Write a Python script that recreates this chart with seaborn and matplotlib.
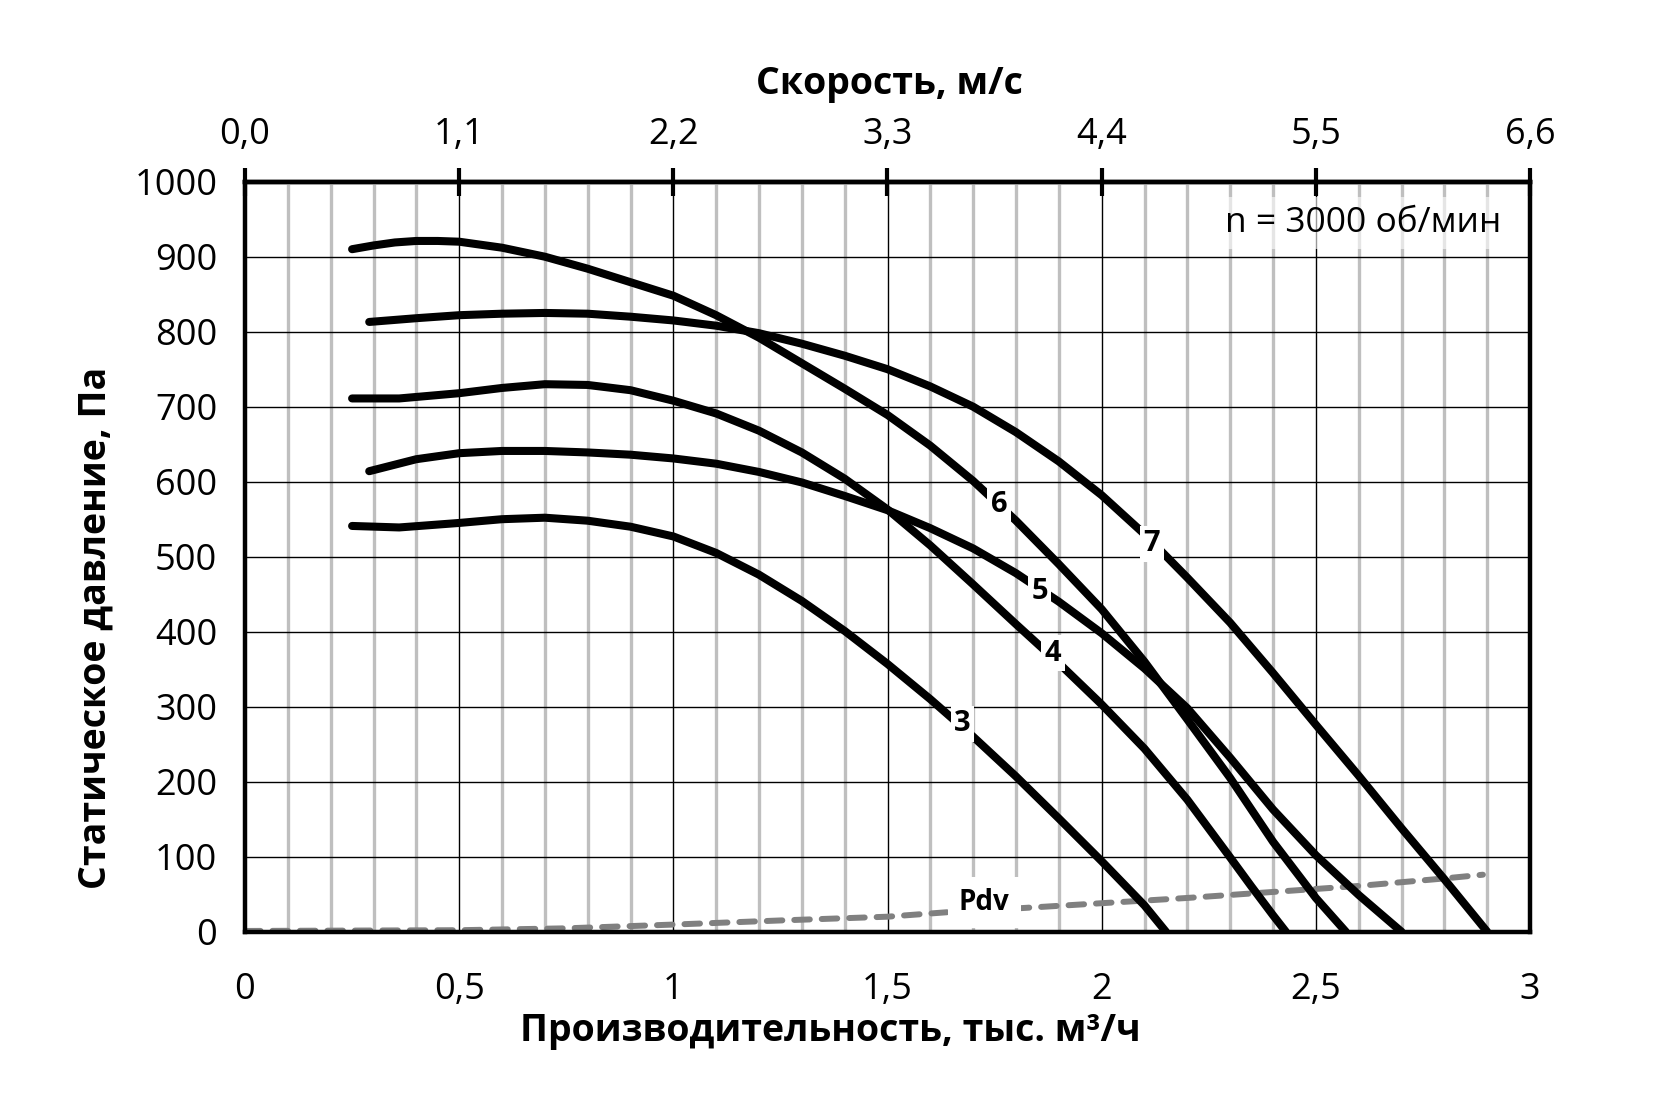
import numpy as np
import pandas as pd
import matplotlib
matplotlib.use("Agg")
import matplotlib.pyplot as plt
import seaborn as sns

# ---------------- data ----------------
q3 = [0.25, 0.36, 0.5, 0.6, 0.7, 0.8, 0.9, 1.0, 1.1, 1.2, 1.3, 1.4, 1.5, 1.6, 1.7, 1.8, 1.9, 2.0, 2.1, 2.15]
p3 = [541, 539, 545, 550, 552, 548, 540, 527, 505, 476, 441, 401, 357, 310, 260, 207, 151, 94, 35, 0]

q4 = [0.25, 0.36, 0.5, 0.6, 0.7, 0.8, 0.9, 1.0, 1.1, 1.2, 1.3, 1.4, 1.5, 1.6, 1.7, 1.8, 1.9, 2.0, 2.1, 2.2, 2.3, 2.35, 2.4, 2.43]
p4 = [711, 711, 718, 725, 730, 729, 722, 708, 691, 668, 639, 604, 563, 515, 463, 410, 358, 303, 244, 176, 99, 60, 22, 0]

q5 = [0.29, 0.4, 0.5, 0.6, 0.7, 0.8, 0.9, 1.0, 1.1, 1.2, 1.3, 1.4, 1.5, 1.6, 1.7, 1.8, 1.9, 2.0, 2.1, 2.2, 2.3, 2.4, 2.5, 2.6, 2.7]
p5 = [614, 630, 638, 641, 641, 639, 636, 631, 624, 613, 599, 581, 562, 538, 511, 478, 440, 398, 351, 298, 232, 163, 102, 49, 0]

q6 = [0.25, 0.3, 0.35, 0.4, 0.45, 0.5, 0.6, 0.7, 0.8, 0.9, 1.0, 1.1, 1.2, 1.3, 1.4, 1.5, 1.6, 1.7, 1.8, 1.9, 2.0, 2.1, 2.2, 2.3, 2.4, 2.5, 2.57]
p6 = [910, 915, 919, 921, 921, 920, 912, 900, 884, 866, 848, 822, 792, 758, 724, 689, 648, 601, 548, 490, 430, 360, 283, 205, 120, 45, 0]

q7 = [0.29, 0.4, 0.5, 0.6, 0.7, 0.8, 0.9, 1.0, 1.1, 1.2, 1.3, 1.4, 1.5, 1.6, 1.7, 1.8, 1.9, 2.0, 2.1, 2.2, 2.3, 2.4, 2.5, 2.6, 2.7, 2.8, 2.9]
p7 = [813, 818, 822, 824, 825, 824, 820, 815, 808, 798, 784, 768, 750, 727, 700, 666, 627, 582, 530, 472, 412, 345, 276, 208, 138, 70, 0]

q_pdv = [0, 0.25, 0.5, 0.75, 1.0, 1.25, 1.5, 1.64, 1.8, 2.0, 2.2, 2.4, 2.6, 2.8, 2.89]
p_pdv = [1, 1.5, 2, 4.5, 9.5, 15, 20, 26, 31, 38, 45, 53, 61, 71, 76]

curve_names = ["3", "4", "5", "6", "7"]

x_ticks = [0, 0.5, 1, 1.5, 2, 2.5, 3]
x_ticklabels = ["0", "0,5", "1", "1,5", "2", "2,5", "3"]
y_ticks = [0, 100, 200, 300, 400, 500, 600, 700, 800, 900, 1000]
top_ticks = [0.0, 1.1, 2.2, 3.3, 4.4, 5.5, 6.6]
top_ticklabels = ["0,0", "1,1", "2,2", "3,3", "4,4", "5,5", "6,6"]

# label placement on curves
label_x = [1.675, 1.886, 1.855, 1.76, 2.117]
label_y = [277, 371, 453, 569, 517]

# ---------------- build long table ----------------
frames = []
for name, q, p in zip(curve_names, [q3, q4, q5, q6, q7], [p3, p4, p5, p6, p7]):
    frames.append(pd.DataFrame({"q": q, "p": p, "curve": name}))
df = pd.concat(frames, ignore_index=True)
df_pdv = pd.DataFrame({"q": q_pdv, "p": p_pdv})

# ---------------- style ----------------
sns.set_theme(style="white")
plt.rcParams["font.family"] = ["Open Sans", "DejaVu Sans"]

fig = plt.figure(figsize=(16.54, 11.03), dpi=100)
ax = fig.add_axes([245 / 1654, 1 - 931.7 / 1103, (1530 - 245) / 1654, 750 / 1103])
ax.set_facecolor("white")
ax.set_axisbelow(True)

sns.lineplot(data=df, x="q", y="p", units="curve", estimator=None, sort=False,
             color="black", lw=5.8, solid_capstyle="round", solid_joinstyle="round",
             ax=ax, zorder=3)
sns.lineplot(data=df_pdv, x="q", y="p", color="#808080", lw=4.3, ax=ax, zorder=2,
             linestyle=(0, (2.6, 2.0)), dash_capstyle="round")

ax.set_xlim(0, 3)
ax.set_ylim(0, 1000)
ax.set_xlabel("")
ax.set_ylabel("")

ax.set_xticks(x_ticks)
ax.set_xticklabels(x_ticklabels)
ax.set_xticks(np.arange(0, 3.01, 0.1), minor=True)
ax.set_yticks(y_ticks)
ax.set_yticklabels([str(v) for v in y_ticks])

ax.grid(which="minor", axis="x", color="#bfbfbf", lw=2.4)
ax.grid(which="major", axis="x", color="black", lw=1.0)
ax.grid(which="major", axis="y", color="black", lw=1.0)

ax.tick_params(axis="both", which="major", direction="inout", length=20, width=3,
               color="black", labelsize=26, labelcolor="black")
ax.tick_params(axis="x", which="major", pad=19, top=False)
ax.tick_params(axis="y", which="major", pad=10, right=False)
ax.tick_params(axis="x", which="minor", length=0)

for s in ax.spines.values():
    s.set_visible(True)
    s.set_color("black")
    s.set_linewidth(3.2)

sec = ax.secondary_xaxis("top", functions=(lambda q: q * 2.2, lambda v: v / 2.2))
sec.set_xticks(top_ticks)
sec.set_xticklabels(top_ticklabels)
sec.tick_params(axis="x", direction="inout", length=20, width=3, color="black",
                labelsize=26, labelcolor="black", pad=11)
sec.spines["top"].set_linewidth(3.2)
sec.spines["top"].set_color("black")

# curve numbers
for t, x, y in zip(curve_names, label_x, label_y):
    ax.text(x, y, t, fontsize=21, fontweight="bold", ha="center", va="center",
            color="black", zorder=5,
            bbox=dict(boxstyle="square,pad=0.12", fc="white", ec="none"))

ax.text(1.726, 29, "Pdv", fontsize=20, fontweight="bold", ha="center", va="baseline",
        color="black", zorder=5,
        bbox=dict(boxstyle="square,pad=0.4", fc="white", ec="none"))

ax.text(2.61, 933, "n = 3000 об/мин", fontsize=25.5, ha="center", va="baseline",
        color="black", zorder=5,
        bbox=dict(boxstyle="square,pad=0.25", fc=(1, 1, 1, 0.6), ec="none"))

# axis titles
fig.text(0.538, 0.915, "Скорость, м/с", ha="center", va="baseline",
         fontsize=27, fontweight="bold", color="black")
fig.text(0.502, 0.0562, "Производительность, тыс. м³/ч", ha="center", va="baseline",
         fontsize=27, fontweight="bold", color="black")
fig.text(0.064, 0.4307, "Статическое давление, Па", ha="center", va="baseline",
         rotation=90, rotation_mode="anchor", fontsize=27, fontweight="bold", color="black")

fig.savefig("out.png", dpi=100, facecolor="white")
